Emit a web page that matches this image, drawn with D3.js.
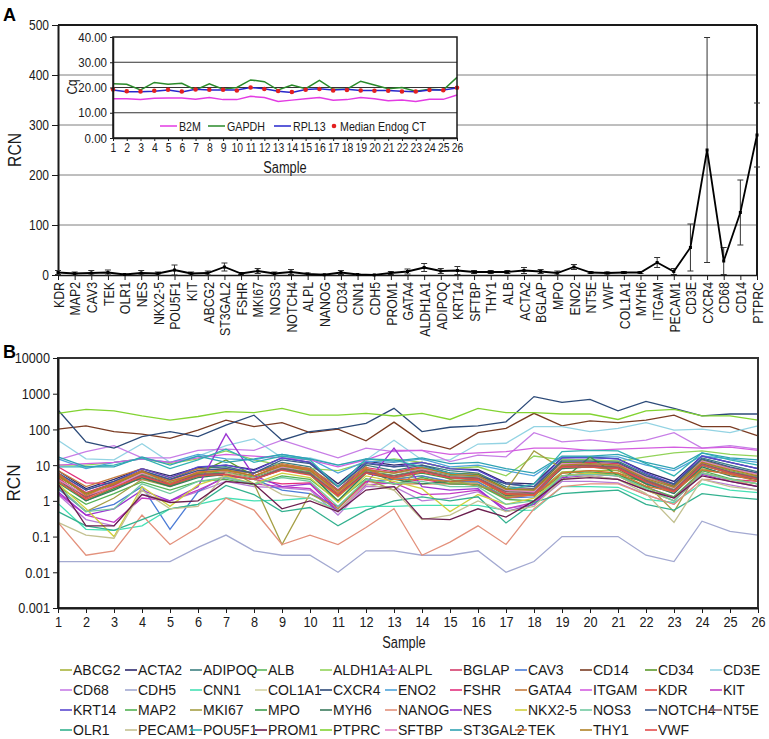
<!DOCTYPE html>
<html><head><meta charset="utf-8">
<script src="https://cdn.jsdelivr.net/npm/d3@7"></script>
<style>
body{margin:0;background:#fff;}
svg{display:block;}
</style></head><body>
<svg id="chart" width="769" height="739"></svg>
<script>
// ---------- Panel A : mean RCN per gene ----------
const genesA = ["KDR","MAP2","CAV3","TEK","OLR1","NES","NKX2-5","POU5F1","KIT","ABCG2","ST3GAL2","FSHR","MKI67","NOS3","NOTCH4","ALPL","NANOG","CD34","CNN1","CDH5","PROM1","GATA4","ALDH1A1","ADIPOQ","KRT14","SFTBP","THY1","ALB","ACTA2","BGLAP","MPO","ENO2","NT5E","VWF","COL1A1","MYH6","ITGAM","PECAM1","CD3E","CXCR4","CD68","CD14","PTPRC"];
const rcnMeanA = [5,3,4,5,1,4,3,10,3,4,16,3,8,3,6,2,0.5,5,1,0.2,4,7,15,8,9,6,6,6,9,7,4,16,5,4,5,5,25,7,55,250,28,125,280];
const rcnSdA   = [4,3,5,5,1,5,3,10,3,4,8,2,5,3,5,2,1,4,1,0.3,3,5,8,5,8,3,3,3,6,4,4,5,2,2,2,2,10,6,47,225,27,65,64];
const ticksA = [0,100,200,300,400,500];
const tickLabelsA = ["0","100","200","300","400","500"];

// ---------- Inset : endogenous control Cq ----------
const sampleLabels = ["1","2","3","4","5","6","7","8","9","10","11","12","13","14","15","16","17","18","19","20","21","22","23","24","25","26"];
const b2mCq   = [15.5,15.5,15.2,15.7,15.8,15.8,15.3,16,15.2,15.2,16.5,16,14.5,15,15.5,16,15,15.2,16,15.5,14.8,15,14.5,15.3,15.3,17];
const gapdhCq = [21.5,21.3,19,22,21.3,21.7,19,21.5,19.3,20,23,22.3,19,21,19.5,22.8,19.3,19.3,22.5,21,19.5,20,18.5,19.3,19,24];
const rpl13Cq = [19,18.3,18.3,18.5,19,18.2,19.3,19,19,19,20,19.5,18.5,18,19.2,19.5,19,19.3,18.8,18.8,18.8,18.5,18.3,19,19,19.8];
const medianCq = [19.2,18.5,18.4,18.7,19.1,18.4,19.2,19.1,19.1,18.8,20,19.4,18.6,18.2,19.1,19.4,18.8,19,18.8,18.7,18.7,18.4,18.4,19,18.9,19.9];
const ticksInset = [0,10,20,30,40];
const tickLabelsInset = ["0.00","10.00","20.00","30.00","40.00"];

// ---------- Panel B : RCN per sample per gene ----------
const rcn_ABCG2  = [3.5,1.1,2.2,5.5,2.8,4.8,6,4,7.5,5.5,1.3,6,4.2,5,3.3,3.4,1.3,1.5,6.5,7,7,3,1.9,8,5.5,4];
const rcn_ACTA2  = [7,2.2,4,8,5,8.5,10,7.5,16,12,3,13,10,12,8,7.5,3.2,3,16,17,15,6.5,3.5,18,12,8];
const rcn_ADIPOQ = [5,1.6,3,7,4,8,9,6,12,9,2,10,7,10,7,6,2.5,2.2,14,14,13,5.5,2.8,16,10,6.5];
const rcn_ALB    = [4.2,1.3,2.7,5.5,3.2,5.8,6.5,4.6,8.5,6.5,1.6,7,5.2,7.5,5.2,4.8,1.9,1.8,10,10.5,9.5,4,2.1,12,7,4.6];
const rcn_ALDH1A1= [10,10,12,15,11,15,25,14,10,8,7,12,15,12,8,9,5,18,14,14,13,17,22,25,20,18];
const rcn_ALPL   = [1.5,0.3,0.2,1.5,1,1.8,3.5,2.5,2.3,2,0.4,2.5,2.5,1,1.2,1.8,0.6,0.8,3.5,3.5,3.2,1.5,0.8,4,2.8,2];
const rcn_BGLAP  = [5.5,1.7,3.2,6.5,3.8,7,8,6,10,8,2,8.5,6.5,9,6,5.5,2.2,2.1,12,12,11,5,2.6,14,8.5,5.8];
const rcn_CAV3   = [2.2,0.5,0.8,2.5,0.16,1.8,5,4,2,1.6,0.7,3.5,4,5,3.5,3.4,1.2,1.3,9,9.5,8,3.2,1.6,10,6,4.5];
const rcn_CD14   = [102,126,87,74,56,96,183,120,155,81,102,48,160,45,28,81,107,282,126,173,155,183,250,120,120,66];
const rcn_CD34   = [5,1.5,3,6,3.5,6,14,5,10,7,1.8,7.5,6,8,6,5.5,2.2,2,12,11,10,4.5,2.5,14,8,5.5];
const rcn_CD3E   = [50,15,14,40,12,18,35,54,16,16,10,14,50,14,14,39,41,120,120,87,107,155,96,102,81,126];
const rcn_CD68   = [14,24,35,16,16,26,28,26,50,28,16,30,24,26,12.6,19,17,81,45,51,42,50,81,30,35,28];
const rcn_CDH5   = [0.02,0.02,0.02,0.02,0.02,0.05,0.11,0.04,0.03,0.03,0.01,0.04,0.04,0.03,0.03,0.04,0.01,0.02,0.1,0.1,0.1,0.03,0.02,0.27,0.14,0.11];
const rcn_CNN1   = [0.85,0.16,0.15,0.2,0.6,0.8,1.2,1.0,1.05,1.2,0.55,0.7,0.7,0.75,0.75,0.75,0.54,0.55,2.5,2.5,2.4,1.1,0.9,3,2,1.7];
const rcn_COL1A1 = [3.8,1.2,2.5,5,3,5.3,6,4.2,8,5.8,1.5,6.5,4.8,6.8,4.6,4.3,1.7,1.6,9,9,8.5,3.7,2,10.5,6.5,4.3];
const rcn_CXCR4  = [350,45,30,63,87,63,132,250,50,87,107,148,390,87,115,126,163,830,570,690,330,610,390,240,270,270];
const rcn_ENO2   = [15,8,12,15,12,20,15,14,20,15,6,13,12,15,9,10,7,5,17,17,17,10,7,18,15,12];
const rcn_FSHR   = [9,3.2,3,4,3,5.5,5,4,3,3.2,0.6,3.5,3,4,3,2.8,1.2,1.5,5,6,5,2,1.3,6,4,3.5];
const rcn_GATA4  = [7,2.5,4.5,8,4.5,8,7,6,11,8,2.5,9,3,3,3,3,1.2,1.5,5,6,6,3.5,2,7,6,4];
const rcn_ITGAM  = [10,11,12,15,12,16,20,18,16,14,9,14,26,26,20,22,24,30,30,26,28,30,32,30,32,26];
const rcn_KDR    = [4.5,1.2,2.8,5,2.6,5.2,6,4,8,5.8,1.4,6.5,4.6,7,4.5,4.2,1.6,1.5,9,10,8.5,3.5,1.9,11,6.5,4.2];
const rcn_KIT    = [1.6,0.4,0.25,1.2,1,2,4.5,3,2.5,2.2,0.5,2.8,3.2,1.5,1.6,2,0.6,0.9,5,5.5,5,2.5,1.2,6,4,3];
const rcn_KRT14  = [6,2,3.5,8,4.5,9,10,7,16,12,2.5,12,9,12,8,7,3,2.5,16,16,15,6,3,18,12,8];
const rcn_MAP2   = [2.5,0.8,1.6,3.4,2,3.5,4,2.8,5,4,1,4.2,3,4.5,3,2.8,1.1,1,6,6.5,5.5,2.4,1.3,7,4.2,3];
const rcn_MKI67  = [2.5,0.5,1.2,4,2.5,5,8,3,0.06,1.6,0.6,4,2,8,4,2.5,2,25,8,9,7,3,0.5,10,6,5];
const rcn_MPO    = [3.2,1,2.2,4.5,2.7,5,5.5,4,7.5,5.5,1,6,4.5,6,4.2,4,1.6,1.5,3.8,17,5,3.5,1.8,10,6,4];
const rcn_MYH6   = [4,1,2,4.5,2.5,4.5,5.5,4,8,6,1,6,4,3,3.5,4,1.4,1.6,8,9,8,3,1.6,9,5,4];
const rcn_NANOG  = [0.25,0.03,0.04,0.4,0.06,0.18,1.2,0.55,0.06,0.11,0.06,0.18,0.6,0.03,0.07,0.2,0.06,0.6,2.5,3,3,1.5,0.8,4,4,2.5];
const rcn_NES    = [1.8,0.4,0.6,2,1,2.5,75,5,2.5,3,0.5,3,30,2.5,2,2.2,0.5,0.8,4.5,5,4,2,1,5.5,3.5,2.5];
const rcn_NKX2_5 = [3,0.6,0.1,2.5,0.7,2.8,5,3,6,4.5,0.9,5,3.5,2.2,0.5,1.5,0.8,1.2,5,6,5,2,1,6,4,3];
const rcn_NOS3   = [2.5,0.5,0.6,3,1.6,3.5,4.5,3,4.5,3.5,0.7,4,3,3.5,2.5,2.5,0.8,1,5,5.5,5,2.2,1,6,4,3];
const rcn_NOTCH4 = [6,2,3.5,7,4,7,8,6,14,11,2.5,11,9,10,6,5,3,2.5,13,13,12,5,3,15,9,6];
const rcn_NT5E   = [4,1.3,2.6,5.2,3,5.5,6,4.2,8,6,1.5,6.5,5,7,4.8,4.4,1.8,1.7,9.5,9.5,9,3.8,2,11,6.5,4.4];
const rcn_OLR1   = [0.5,0.2,0.15,0.3,0.6,0.8,2.7,1.5,0.5,0.65,0.2,0.55,1,1.3,1,1.3,0.24,0.9,1.6,1.8,2,0.8,0.55,1.6,1.3,1.1];
const rcn_PECAM1 = [0.25,0.11,0.09,2,0.6,0.7,6,4,1.5,1.2,0.5,3,2,0.3,0.4,1,0.5,0.7,4,5,4,1.6,0.25,4,2.5,2];
const rcn_POU5F1 = [9,9,10,16,8,14,28,12,18,14,2.5,15,14,9,6,5,2,3,24,26,25,11,5,22,14,10];
const rcn_PROM1  = [3,0.2,0.2,1.5,0.9,1,3.5,3,0.6,1,0.5,2,2.5,0.32,0.3,0.6,0.35,1,4,4.5,4,2,1.2,5,3.5,2.5];
const rcn_PTPRC  = [282,365,330,238,183,230,315,295,390,252,252,282,238,282,190,390,295,295,270,270,190,330,365,240,240,183];
const rcn_SFTBP  = [4,1.4,2.5,6,3.5,6.5,7,5,9,7,1.7,8,6,8,5.5,5,2,1.8,11,11,10,4.5,2.3,13,8,5.5];
const rcn_ST3GAL2= [17,9,9,17,10,18,12,15,20,15,10,15,13,16,11,12,8,6,18,18,20,12,8,22,16,14];
const rcn_TEK    = [6,1.4,3.2,7,3,6.5,7,5,10,7.5,1.6,8,4,4,3.5,3.8,1.5,1.4,6,7,6,2.6,1.8,7.5,5.5,3.5];
const rcn_THY1   = [5,1.6,3,6.5,3.5,6,7.5,5,9.5,7,1.9,7.5,6,8.5,5.5,5,2.1,2,10,11,10,4.2,2.4,12,7.5,5];
const rcn_VWF    = [3.5,1.1,2.4,4.8,2.8,5,5.5,4,7.2,5.3,1.4,6,4.4,6.4,4.4,4,1.6,1.5,8.8,8.8,8,3.4,1.8,10,6,4];

const legendGenes = ["ABCG2","ACTA2","ADIPOQ","ALB","ALDH1A1","ALPL","BGLAP","CAV3","CD14","CD34","CD3E","CD68","CDH5","CNN1","COL1A1","CXCR4","ENO2","FSHR","GATA4","ITGAM","KDR","KIT","KRT14","MAP2","MKI67","MPO","MYH6","NANOG","NES","NKX2-5","NOS3","NOTCH4","NT5E","OLR1","PECAM1","POU5F1","PROM1","PTPRC","SFTBP","ST3GAL2","TEK","THY1","VWF"];
const legendColors = ["#a9b43c","#2e2a6e","#3d7f80","#5cb85c","#92d35a","#b77ad6","#d43d6b","#4b7bd6","#7a3b22","#5c9a2c","#93d3e3","#c77de6","#a3a9d1","#46e0b4","#d2d3a4","#2c4a78","#4ea3d9","#e3307d","#c47b3e","#d35ee0","#e04545","#c23ac4","#5a48d0","#53b253","#a59f45","#3d9c4c","#3a7a5c","#e3917c","#9b34d2","#d0d03e","#72c9a1","#3b5b8c","#8a5a6b","#33b18f","#c3c191","#33b3b3","#6b1e4e","#82d332","#e483c6","#2fa3b3","#d27234","#b08225","#e34c4c"];
const seriesB = [rcn_ABCG2,rcn_ACTA2,rcn_ADIPOQ,rcn_ALB,rcn_ALDH1A1,rcn_ALPL,rcn_BGLAP,rcn_CAV3,rcn_CD14,rcn_CD34,rcn_CD3E,rcn_CD68,rcn_CDH5,rcn_CNN1,rcn_COL1A1,rcn_CXCR4,rcn_ENO2,rcn_FSHR,rcn_GATA4,rcn_ITGAM,rcn_KDR,rcn_KIT,rcn_KRT14,rcn_MAP2,rcn_MKI67,rcn_MPO,rcn_MYH6,rcn_NANOG,rcn_NES,rcn_NKX2_5,rcn_NOS3,rcn_NOTCH4,rcn_NT5E,rcn_OLR1,rcn_PECAM1,rcn_POU5F1,rcn_PROM1,rcn_PTPRC,rcn_SFTBP,rcn_ST3GAL2,rcn_TEK,rcn_THY1,rcn_VWF];
const ticksB = [0.001,0.01,0.1,1,10,100,1000,10000];
const tickLabelsB = ["0.001","0.01","0.1","1","10","100","1000","10000"];

// ---------- drawing ----------
const REG = '"Liberation Sans",Arial,sans-serif';
const INK = "#1a1a1a";
const svg = d3.select("#chart");

// condense text horizontally (the reference uses a narrow face)
function narrow(sel, f){
  sel.each(function(){
    const l = this.getComputedTextLength();
    d3.select(this).attr("textLength", l * (f || 0.8)).attr("lengthAdjust", "spacingAndGlyphs");
  });
  return sel;
}
function styleAxis(g, size, lw){
  g.selectAll("path.domain").attr("stroke", INK).attr("stroke-width", lw);
  g.selectAll(".tick line").attr("stroke", INK).attr("stroke-width", 1);
  g.selectAll(".tick text").attr("fill", INK).style("font-family", REG).style("font-size", size + "px");
}
function label(parent, txt, size, f){
  const t = parent.append("text").style("font-family", REG).style("font-size", size + "px").attr("fill", INK).text(txt);
  return t;
}

// ===== Panel A =====
const xA = d3.scalePoint().domain(genesA).range([58, 757]);
const yA = d3.scaleLinear().domain([0, 500]).range([275, 25]);
const gA = svg.append("g");

gA.selectAll("line.grid").data(ticksA.filter(d => d > 0 && d < 500)).join("line")
  .attr("x1", 58).attr("x2", 757).attr("y1", d => yA(d)).attr("y2", d => yA(d))
  .attr("stroke", "#7f7f7f").attr("stroke-width", 1);
gA.append("line").attr("x1", 58).attr("x2", 757).attr("y1", yA(500)).attr("y2", yA(500))
  .attr("stroke", INK).attr("stroke-width", 2);
gA.append("line").attr("x1", 757).attr("x2", 757).attr("y1", yA(500)).attr("y2", yA(0))
  .attr("stroke", INK).attr("stroke-width", 2);

const axAL = gA.append("g").attr("transform", "translate(58,0)")
  .call(d3.axisLeft(yA).tickValues(ticksA).tickSize(6).tickSizeOuter(0).tickFormat((d, i) => tickLabelsA[i]));
styleAxis(axAL, 15, 2);
narrow(axAL.selectAll(".tick text"), 0.8);
const axAB = gA.append("g").attr("transform", `translate(0,${yA(0)})`)
  .call(d3.axisBottom(xA).tickSize(5).tickSizeOuter(0));
styleAxis(axAB, 15, 1.5);
axAB.selectAll(".tick text").attr("transform", "rotate(-90)").attr("x", -7).attr("y", 0)
  .attr("dy", "0.35em").attr("text-anchor", "end");
narrow(axAB.selectAll(".tick text"), 0.82);

// error bars
const errA = gA.append("g");
genesA.forEach((g, i) => {
  const x = xA(g), hi = yA(rcnMeanA[i] + rcnSdA[i]), lo = yA(Math.max(0, rcnMeanA[i] - rcnSdA[i]));
  errA.append("line").attr("x1", x).attr("x2", x).attr("y1", hi).attr("y2", lo).attr("stroke", "#333").attr("stroke-width", 1);
  errA.append("line").attr("x1", x - 3).attr("x2", x + 3).attr("y1", hi).attr("y2", hi).attr("stroke", "#333").attr("stroke-width", 1);
  errA.append("line").attr("x1", x - 3).attr("x2", x + 3).attr("y1", lo).attr("y2", lo).attr("stroke", "#333").attr("stroke-width", 1);
});
gA.append("path").datum(genesA.map((g, i) => [g, rcnMeanA[i]]))
  .attr("d", d3.line().x(d => xA(d[0])).y(d => yA(d[1])))
  .attr("fill", "none").attr("stroke", "#000").attr("stroke-width", 1.8);
gA.selectAll("rect.mk").data(genesA).join("rect")
  .attr("x", d => xA(d) - 1.5).attr("y", (d, i) => yA(rcnMeanA[i]) - 1.5)
  .attr("width", 3).attr("height", 3).attr("fill", "#000");

narrow(label(svg, "RCN", 19).attr("transform", "translate(21,150) rotate(-90)").attr("text-anchor", "middle"), 0.82);
svg.append("text").attr("x", 3).attr("y", 21).style("font-family", REG).style("font-weight", "bold")
  .style("font-size", "18px").attr("fill", "#000").text("A");

// ===== Inset =====
const xI = d3.scalePoint().domain(sampleLabels).range([113, 457]);
const yI = d3.scaleLinear().domain([0, 40]).range([138, 37]);
const gI = svg.append("g");
gI.append("rect").attr("x", 113).attr("y", 37).attr("width", 344).attr("height", 101).attr("fill", "#fff");
gI.selectAll("line.ig").data(ticksInset.filter(d => d > 0 && d < 40)).join("line")
  .attr("x1", 113).attr("x2", 457).attr("y1", d => yI(d)).attr("y2", d => yI(d))
  .attr("stroke", "#333").attr("stroke-width", 1);
const lineI = d3.line().x((d, i) => xI(sampleLabels[i])).y(d => yI(d));
gI.append("path").datum(b2mCq).attr("d", lineI).attr("fill", "none").attr("stroke", "#e33be3").attr("stroke-width", 1.5);
gI.append("path").datum(gapdhCq).attr("d", lineI).attr("fill", "none").attr("stroke", "#2a8a2a").attr("stroke-width", 1.5);
gI.append("path").datum(rpl13Cq).attr("d", lineI).attr("fill", "none").attr("stroke", "#2626cc").attr("stroke-width", 1.5);
gI.selectAll("circle.med").data(medianCq).join("circle")
  .attr("cx", (d, i) => xI(sampleLabels[i])).attr("cy", d => yI(d)).attr("r", 2.3).attr("fill", "#e32020");
gI.append("rect").attr("x", 113).attr("y", 37).attr("width", 344).attr("height", 101)
  .attr("fill", "none").attr("stroke", INK).attr("stroke-width", 1.5);
const axIL = gI.append("g").attr("transform", "translate(113,0)")
  .call(d3.axisLeft(yI).tickValues(ticksInset).tickSize(3).tickSizeOuter(0).tickFormat((d, i) => tickLabelsInset[i]));
styleAxis(axIL, 12.5, 1.5);
narrow(axIL.selectAll(".tick text"), 0.92);
const axIB = gI.append("g").attr("transform", "translate(0,138)")
  .call(d3.axisBottom(xI).tickSize(3).tickSizeOuter(0));
styleAxis(axIB, 13, 1.5);
axIB.selectAll(".tick text").attr("y", 5);
narrow(axIB.selectAll(".tick text"), 0.8);
narrow(label(gI, "Sample", 16).attr("x", 285).attr("y", 173).attr("text-anchor", "middle"), 0.8);
narrow(label(gI, "Cq", 14).attr("transform", "translate(77,87) rotate(-90)").attr("text-anchor", "middle"), 0.85);
// inset legend
const insetLegend = [
  {label: "B2M", color: "#e33be3", x: 160},
  {label: "GAPDH", color: "#2a8a2a", x: 208},
  {label: "RPL13", color: "#2626cc", x: 274}
];
insetLegend.forEach(it => {
  gI.append("line").attr("x1", it.x).attr("x2", it.x + 17).attr("y1", 126).attr("y2", 126)
    .attr("stroke", it.color).attr("stroke-width", 1.5);
  narrow(label(gI, it.label, 13).attr("x", it.x + 19).attr("y", 126).attr("dy", "0.35em"), 0.82);
});
gI.append("circle").attr("cx", 334).attr("cy", 126).attr("r", 2.3).attr("fill", "#e32020");
narrow(label(gI, "Median Endog CT", 13).attr("x", 340).attr("y", 126).attr("dy", "0.35em"), 0.82);

// ===== Panel B =====
const xB = d3.scalePoint().domain(sampleLabels).range([58, 758]);
const yB = d3.scaleLog().domain([0.001, 10000]).range([608, 358]);
const gB = svg.append("g");
const lineB = d3.line().x((d, i) => xB(sampleLabels[i])).y(d => yB(d));
gB.selectAll("path.gene").data(seriesB).join("path")
  .attr("d", lineB).attr("fill", "none")
  .attr("stroke", (d, i) => legendColors[i]).attr("stroke-width", 1.3);
gB.append("rect").attr("x", 58).attr("y", 358).attr("width", 700).attr("height", 250)
  .attr("fill", "none").attr("stroke", "#333").attr("stroke-width", 2);
const axBL = gB.append("g").attr("transform", "translate(58,0)")
  .call(d3.axisLeft(yB).tickValues(ticksB).tickSize(5).tickSizeOuter(0).tickFormat((d, i) => tickLabelsB[i]));
styleAxis(axBL, 15.5, 2);
narrow(axBL.selectAll(".tick text"), 0.82);
const axBB = gB.append("g").attr("transform", "translate(0,608)")
  .call(d3.axisBottom(xB).tickSize(5).tickSizeOuter(0));
styleAxis(axBB, 15.5, 2);
narrow(axBB.selectAll(".tick text"), 0.82);
narrow(label(gB, "Sample", 16).attr("x", 404).attr("y", 648).attr("text-anchor", "middle"), 0.8);
narrow(label(svg, "RCN", 19).attr("transform", "translate(20,483) rotate(-90)").attr("text-anchor", "middle"), 0.9);
svg.append("text").attr("x", 3).attr("y", 358).style("font-family", REG).style("font-weight", "bold")
  .style("font-size", "18px").attr("fill", "#000").text("B");

// legend
const gL = svg.append("g");
legendGenes.forEach((g, i) => {
  const col = i % 11, row = Math.floor(i / 11);
  const x = 60 + col * 65, y = 670 + row * 20;
  gL.append("line").attr("x1", x).attr("x2", x + 12).attr("y1", y).attr("y2", y)
    .attr("stroke", legendColors[i]).attr("stroke-width", 1.6);
  label(gL, g, 14).attr("x", x + 13).attr("y", y).attr("dy", "0.36em");
});
</script>
</body></html>
